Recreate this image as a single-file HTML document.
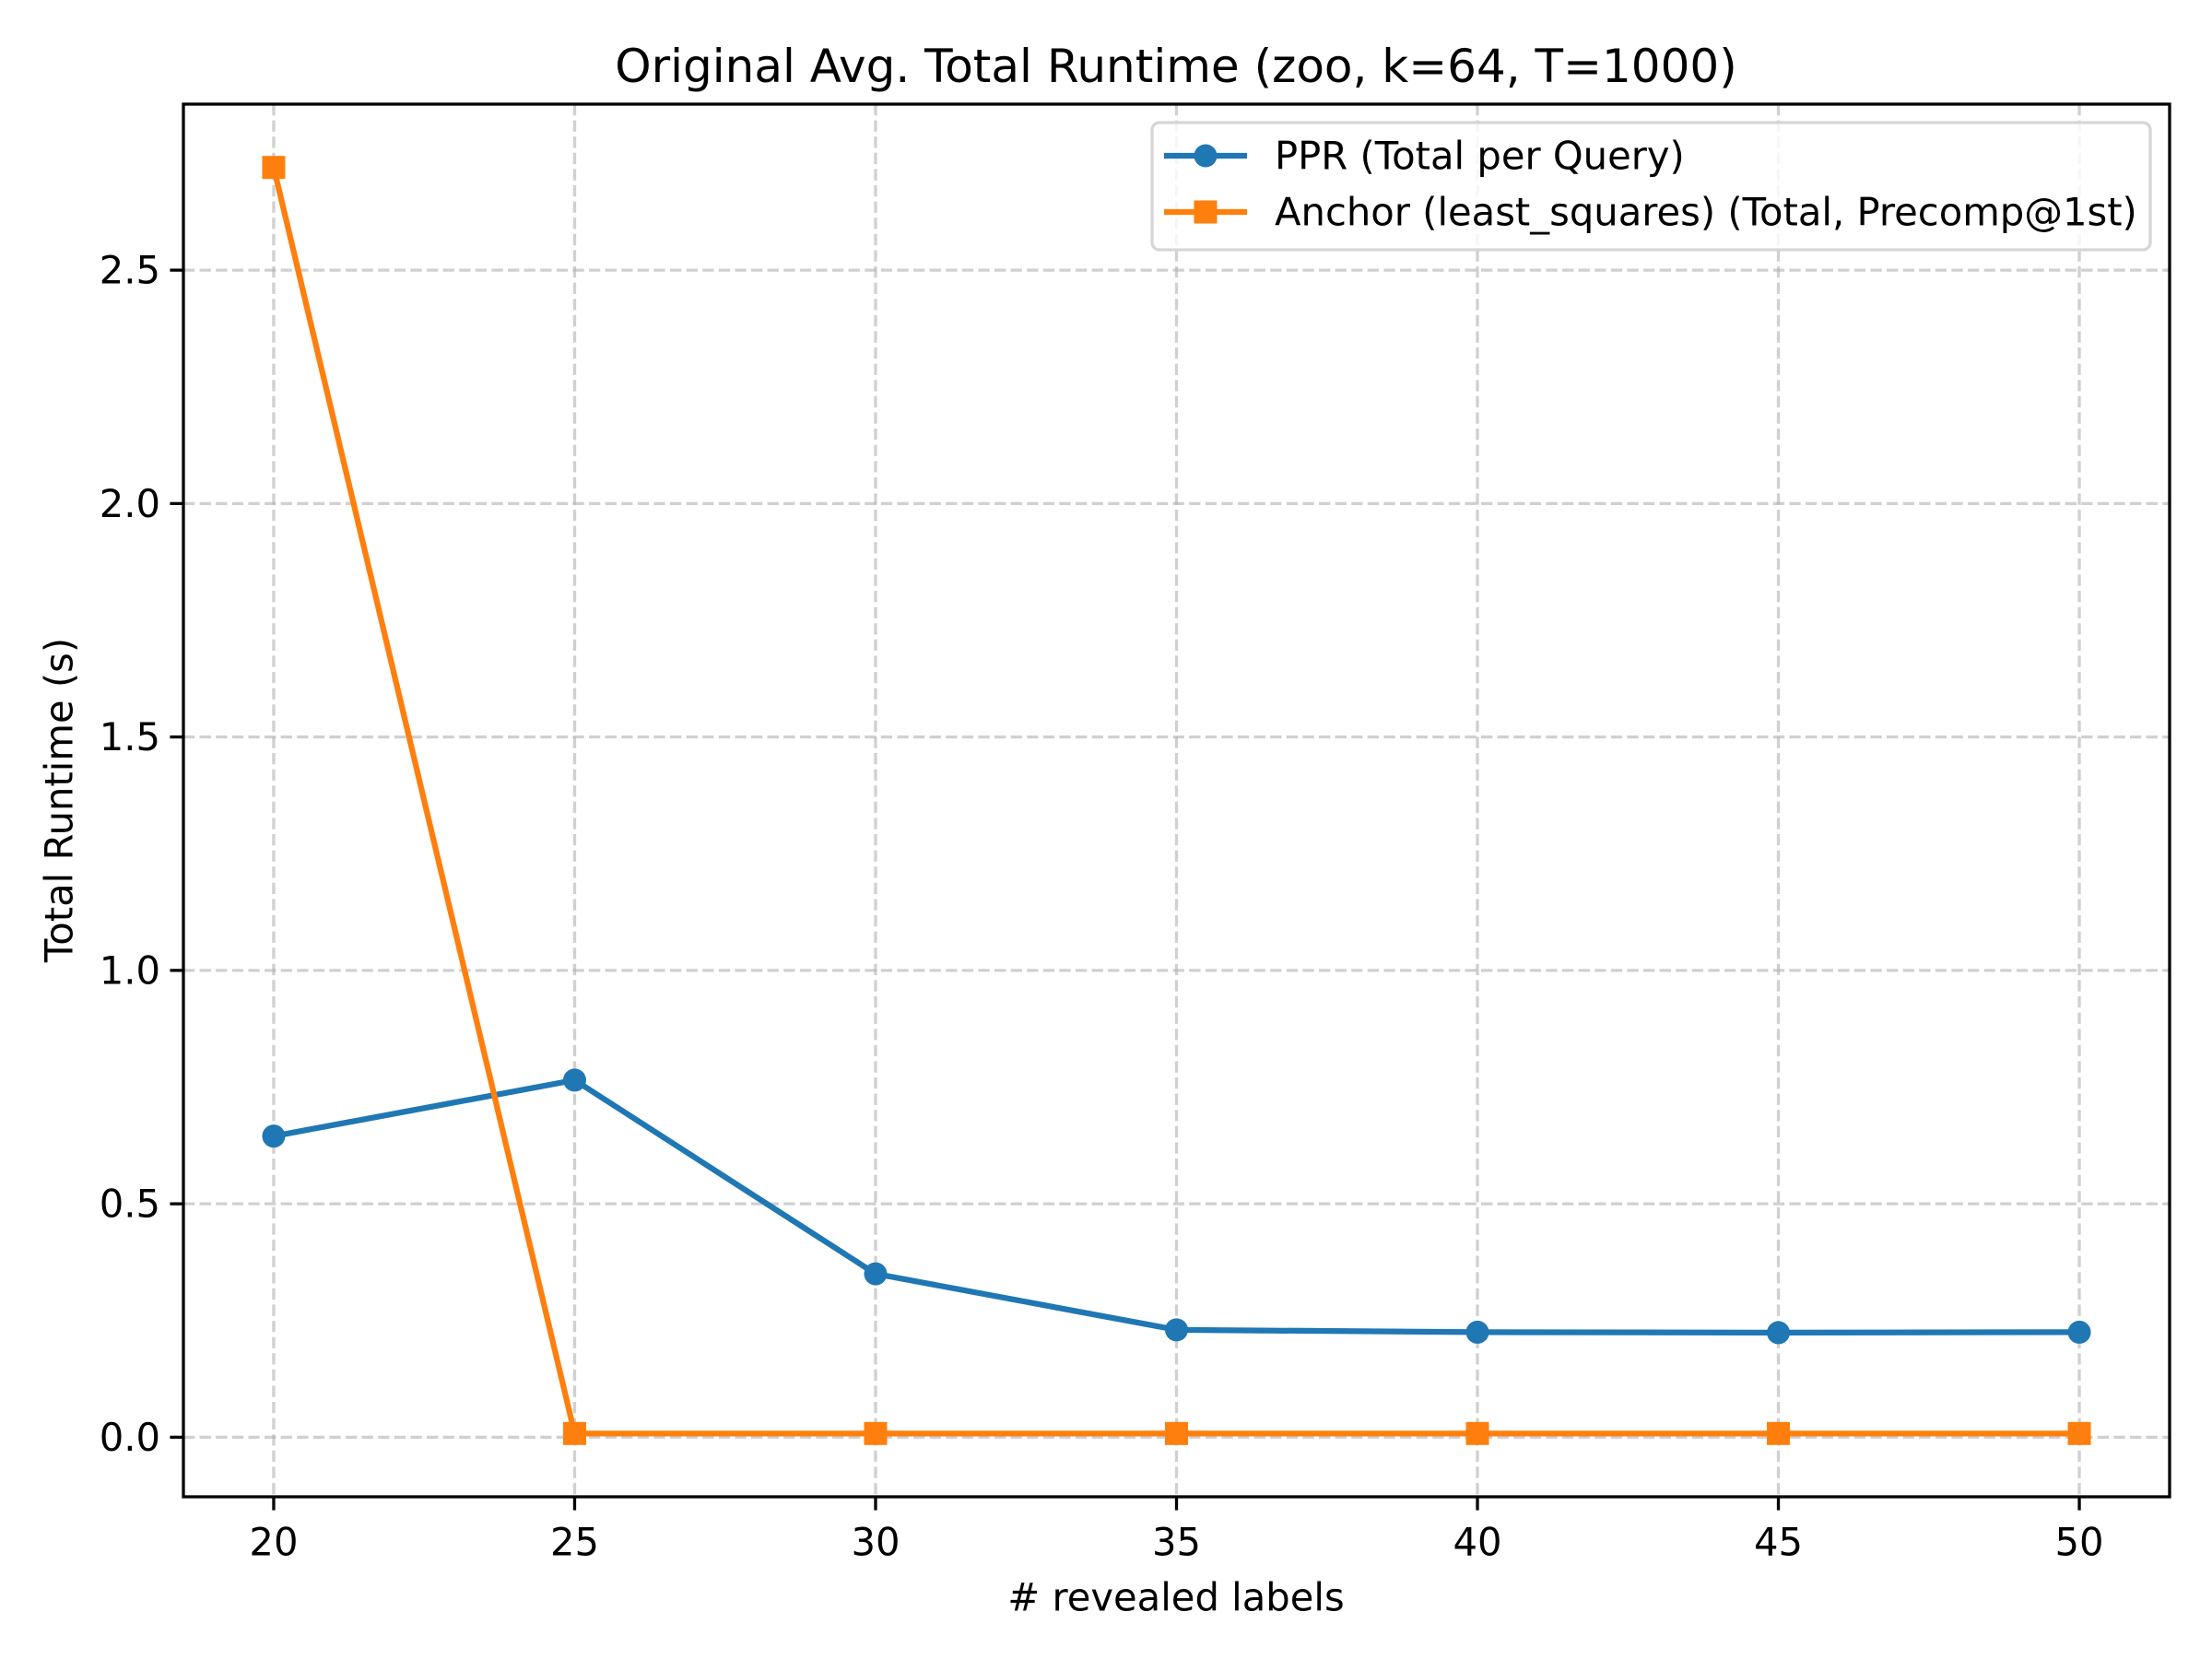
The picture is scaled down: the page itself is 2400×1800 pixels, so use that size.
<!DOCTYPE html>
<html><head><meta charset="utf-8"><style>
html,body{margin:0;padding:0;background:#fff;}
svg{display:block;font-family:"DejaVu Sans","Liberation Sans",sans-serif;}
</style></head><body>
<svg id="chart" width="2400" height="1800" viewBox="0 0 2400 1800" xmlns="http://www.w3.org/2000/svg">
<rect x="0" y="0" width="2400" height="1800" fill="#fff"/>
<g id="grid"></g>
<g id="series"></g>
<rect x="199" y="113" width="2155" height="1511" fill="none" stroke="#000" stroke-width="3.3"/>
<g id="ticks"></g>
<text x="1276" y="72" font-size="50" text-anchor="middle" dominant-baseline="central">Original Avg. Total Runtime (zoo, k=64, T=1000)</text>
<text x="1276" y="1733" font-size="41.7" text-anchor="middle" dominant-baseline="central"># revealed labels</text>
<text x="64" y="868" font-size="41.7" text-anchor="middle" dominant-baseline="central" transform="rotate(-90 64 868)">Total Runtime (s)</text>
<g>
<rect x="1250" y="133" width="1083" height="138" rx="8" fill="#fff" fill-opacity="0.8" stroke="#d6d6d6" stroke-width="3.3"/>
<line x1="1263" y1="169" x2="1353" y2="169" stroke="#1f77b4" stroke-width="6.25"/>
<circle cx="1308" cy="169" r="12.5" fill="#1f77b4"/>
<text x="1383" y="169" font-size="41.7" dominant-baseline="central">PPR (Total per Query)</text>
<line x1="1263" y1="230" x2="1353" y2="230" stroke="#ff7f0e" stroke-width="6.25"/>
<rect x="1295.5" y="217.5" width="25" height="25" fill="#ff7f0e"/>
<text x="1383" y="230" font-size="41.7" dominant-baseline="central">Anchor (least_squares) (Total, Precomp@1st)</text>
</g>
</svg>
<script>
const xValues = [20, 25, 30, 35, 40, 45, 50];
const pprValues = [0.645, 0.765, 0.35, 0.23, 0.225, 0.224, 0.225];
const anchorValues = [2.72, 0.008, 0.008, 0.008, 0.008, 0.008, 0.008];
const xTicks = [20, 25, 30, 35, 40, 45, 50];
const yTicks = [0.0, 0.5, 1.0, 1.5, 2.0, 2.5];
const yTickLabels = ["0.0", "0.5", "1.0", "1.5", "2.0", "2.5"];

const L = 199, R = 2354, T = 113, B = 1624;
const allX = xValues, allY = pprValues.concat(anchorValues);
const xmin0 = Math.min(...allX), xmax0 = Math.max(...allX);
const ymin0 = Math.min(...allY), ymax0 = Math.max(...allY);
const xm = (xmax0 - xmin0) * 0.05, ym = (ymax0 - ymin0) * 0.05;
const xD = [xmin0 - xm, xmax0 + xm], yD = [ymin0 - ym, ymax0 + ym];
function sx(v){ return L + (v - xD[0]) / (xD[1] - xD[0]) * (R - L); }
function sy(v){ return B - (v - yD[0]) / (yD[1] - yD[0]) * (B - T); }
const NS = "http://www.w3.org/2000/svg";
function mk(tag, attrs, parent){
  const e = document.createElementNS(NS, tag);
  for (const k in attrs) e.setAttribute(k, attrs[k]);
  parent.appendChild(e); return e;
}
const grid = document.getElementById('grid');
const ticks = document.getElementById('ticks');
const series = document.getElementById('series');
xTicks.forEach((t, i) => {
  const x = sx(t);
  const g = mk('line', {x1:x, y1:T, x2:x, y2:B, stroke:'#b0b0b0', 'stroke-opacity':0.6, 'stroke-width':3.3, 'stroke-dasharray':'12.3 5.3'}, grid);
  
  
  const tk = mk('line', {x1:x, y1:B, x2:x, y2:B+14.6, stroke:'#000', 'stroke-width':3.3}, ticks);
  
  
  const lb = mk('text', {x:x, y:1673, 'font-size':41.7, 'text-anchor':'middle', 'dominant-baseline':'central'}, ticks);
  lb.textContent = String(t);
  
  
});
yTicks.forEach((t, i) => {
  const y = sy(t);
  const g = mk('line', {x1:L, y1:y, x2:R, y2:y, stroke:'#b0b0b0', 'stroke-opacity':0.6, 'stroke-width':3.3, 'stroke-dasharray':'12.3 5.3'}, grid);
  
  
  const tk = mk('line', {x1:L-14.6, y1:y, x2:L, y2:y, stroke:'#000', 'stroke-width':3.3}, ticks);
  
  
  const lb = mk('text', {x:L-25, y:y, 'font-size':41.7, 'text-anchor':'end', 'dominant-baseline':'central'}, ticks);
  lb.textContent = yTickLabels[i];
  
  
});
function drawSeries(vals, color, kind, name){
  const pts = vals.map((v, i) => sx(xValues[i]) + ',' + sy(v)).join(' ');
  const pl = mk('polyline', {points:pts, fill:'none', stroke:color, 'stroke-width':6.25, 'stroke-linejoin':'round', 'stroke-linecap':'square'}, series);
  
  
  vals.forEach((v, i) => {
    const x = sx(xValues[i]), y = sy(v);
    let m;
    if (kind === 'circle') m = mk('circle', {cx:x, cy:y, r:12.5, fill:color}, series);
    else m = mk('rect', {x:x-12.5, y:y-12.5, width:25, height:25, fill:color}, series);
    
    
  });
}
drawSeries(pprValues, '#1f77b4', 'circle', 'ppr');
drawSeries(anchorValues, '#ff7f0e', 'square', 'anchor');
</script>
</body></html>
